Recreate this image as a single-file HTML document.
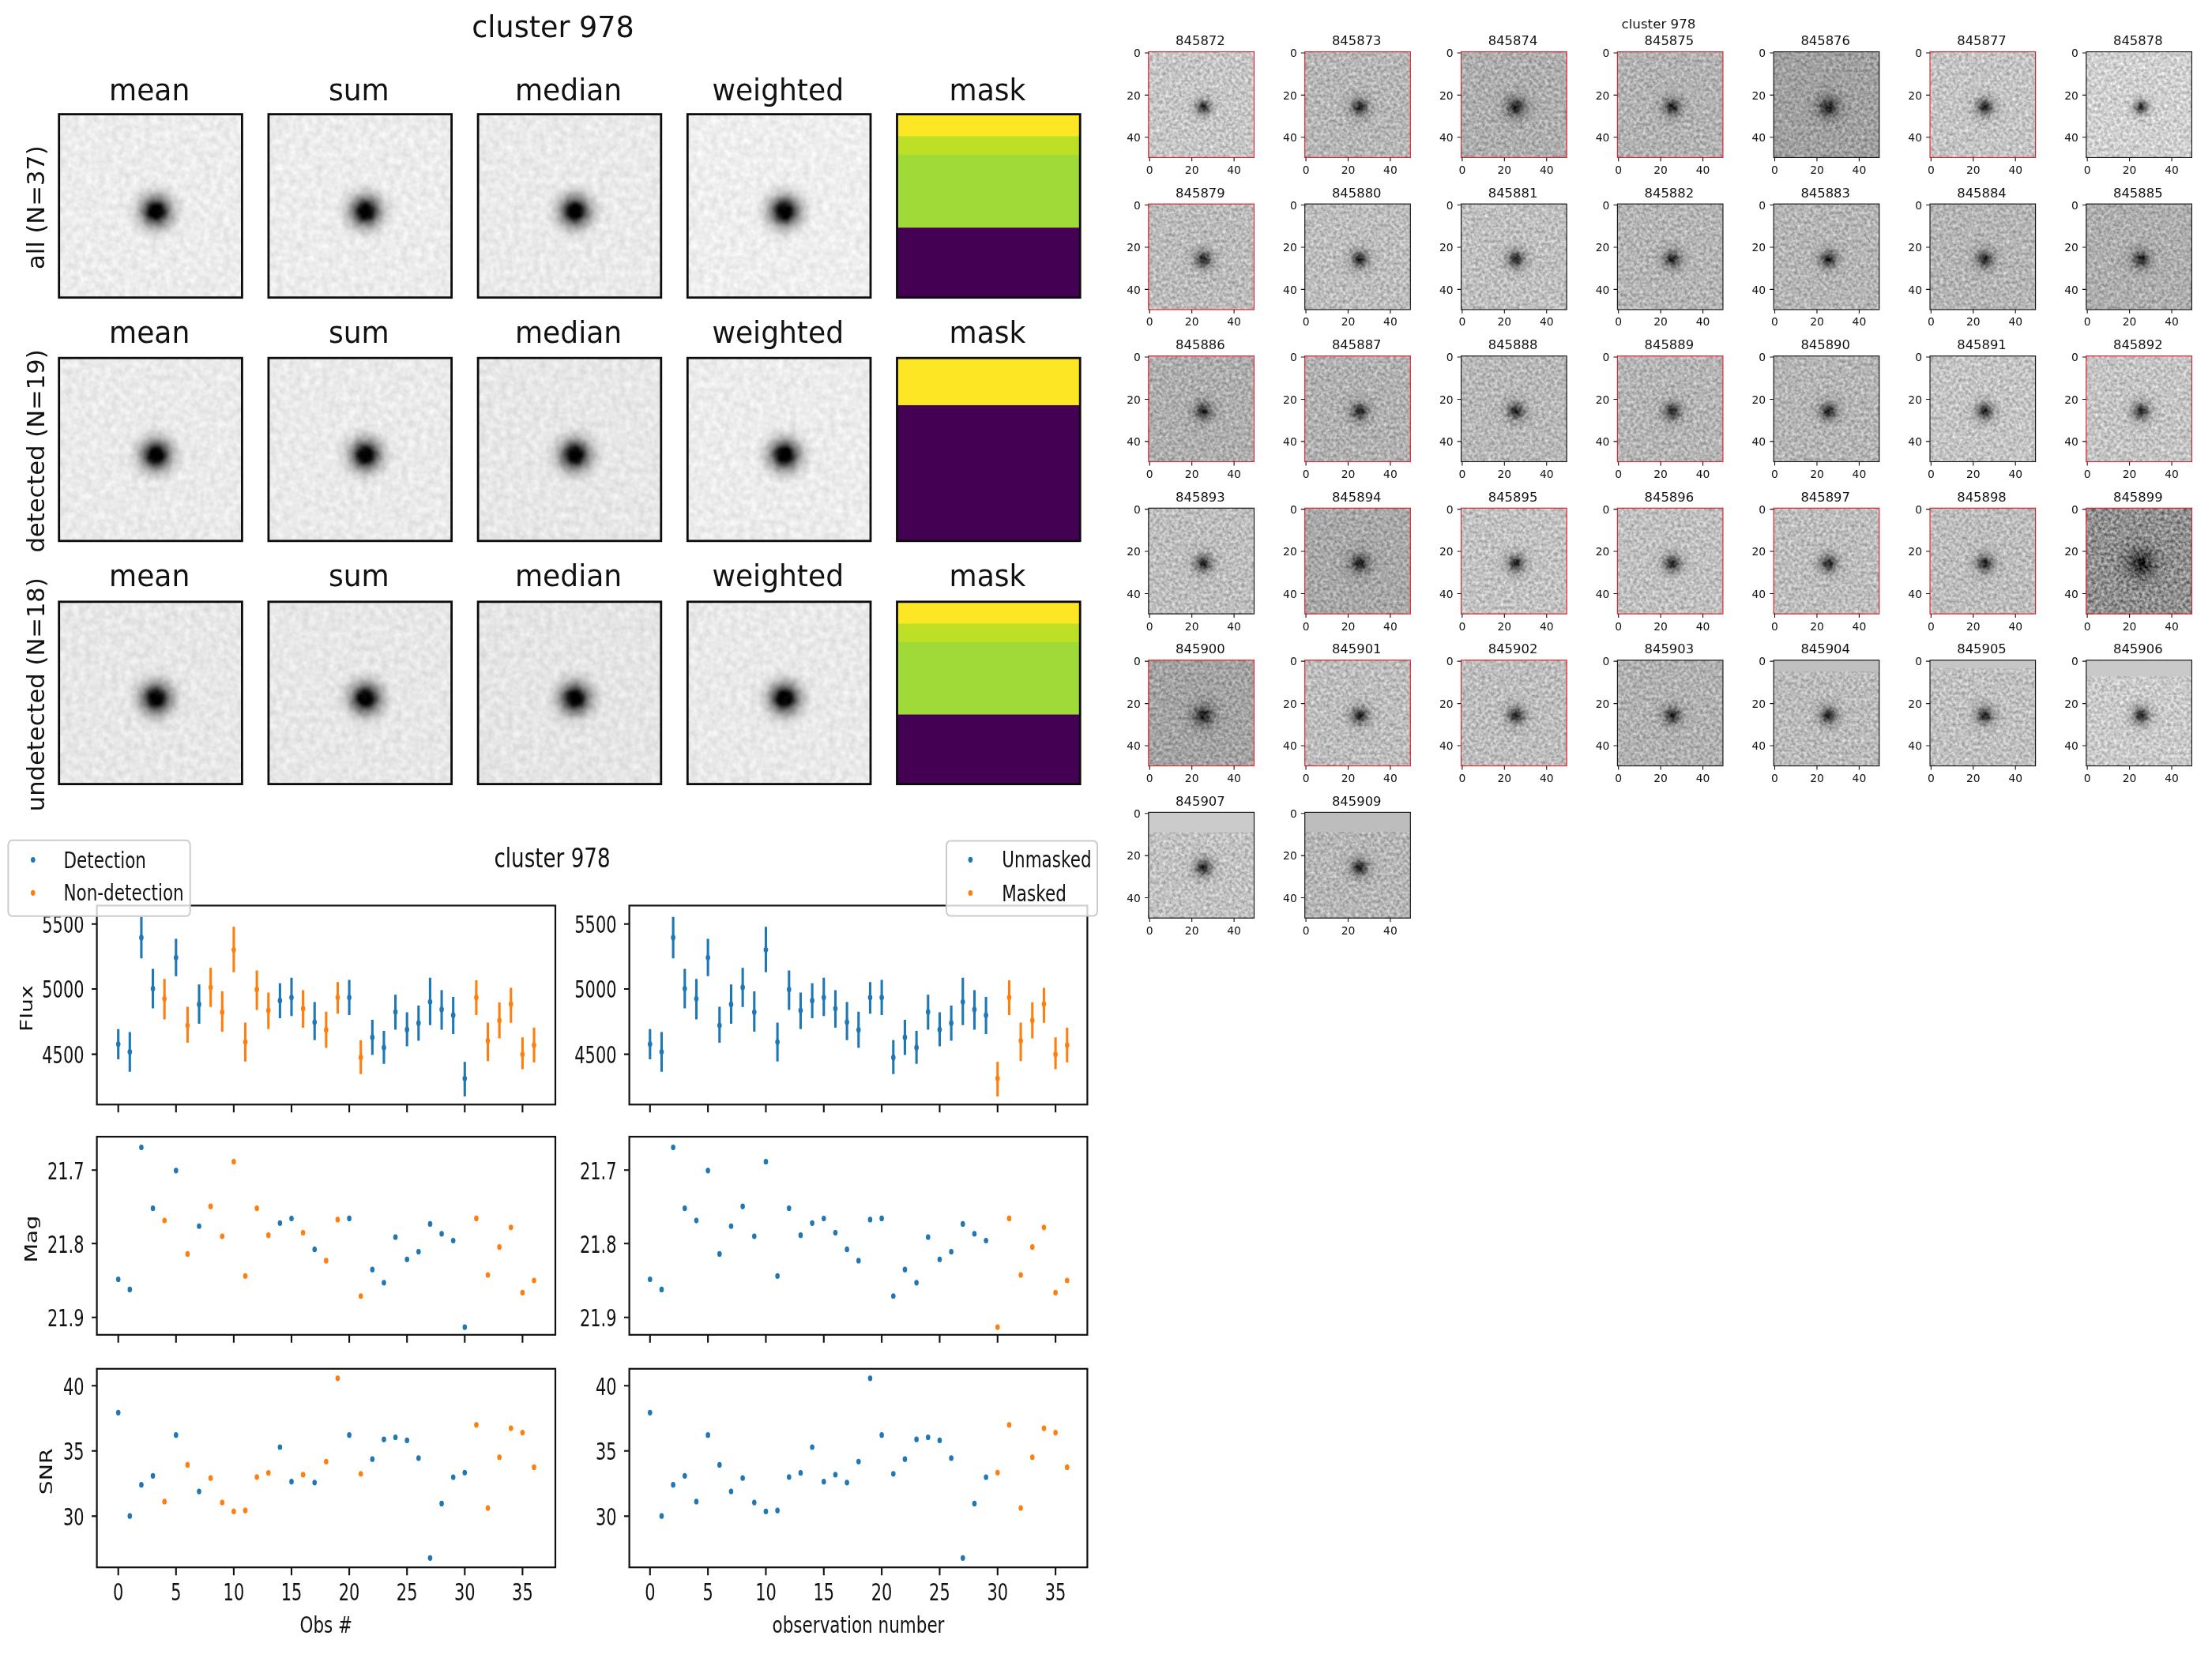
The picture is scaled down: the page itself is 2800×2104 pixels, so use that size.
<!DOCTYPE html>
<html lang="en"><head><meta charset="utf-8"><title>cluster 978</title>
<style>html,body{margin:0;padding:0;background:#fff;width:2800px;height:2104px;overflow:hidden}svg{display:block;position:absolute;left:0;top:0}text{font-family:"DejaVu Sans","Liberation Sans",sans-serif;fill:#111;font-stretch:normal}</style></head><body>
<svg width="2800" height="2104" viewBox="0 0 2800 2104" style="will-change:transform">
<defs>
<radialGradient id="gA" cx="0.5" cy="0.5" r="0.5"><stop offset="0.000" stop-color="#000" stop-opacity="1"/><stop offset="0.125" stop-color="#000" stop-opacity="1"/><stop offset="0.175" stop-color="#000" stop-opacity="0.97"/><stop offset="0.225" stop-color="#000" stop-opacity="0.9"/><stop offset="0.275" stop-color="#000" stop-opacity="0.78"/><stop offset="0.325" stop-color="#000" stop-opacity="0.65"/><stop offset="0.375" stop-color="#000" stop-opacity="0.54"/><stop offset="0.425" stop-color="#000" stop-opacity="0.44"/><stop offset="0.475" stop-color="#000" stop-opacity="0.36"/><stop offset="0.525" stop-color="#000" stop-opacity="0.29"/><stop offset="0.575" stop-color="#000" stop-opacity="0.23"/><stop offset="0.625" stop-color="#000" stop-opacity="0.17"/><stop offset="0.688" stop-color="#000" stop-opacity="0.12"/><stop offset="0.750" stop-color="#000" stop-opacity="0.08"/><stop offset="0.825" stop-color="#000" stop-opacity="0.04"/><stop offset="0.925" stop-color="#000" stop-opacity="0.01"/><stop offset="1.000" stop-color="#000" stop-opacity="0"/></radialGradient>
<radialGradient id="gB" cx="0.5" cy="0.5" r="0.5"><stop offset="0.000" stop-color="#000" stop-opacity="0.82"/><stop offset="0.067" stop-color="#000" stop-opacity="0.8"/><stop offset="0.133" stop-color="#000" stop-opacity="0.7"/><stop offset="0.200" stop-color="#000" stop-opacity="0.55"/><stop offset="0.267" stop-color="#000" stop-opacity="0.42"/><stop offset="0.333" stop-color="#000" stop-opacity="0.3"/><stop offset="0.417" stop-color="#000" stop-opacity="0.19"/><stop offset="0.500" stop-color="#000" stop-opacity="0.11"/><stop offset="0.667" stop-color="#000" stop-opacity="0.04"/><stop offset="0.833" stop-color="#000" stop-opacity="0.01"/><stop offset="1.000" stop-color="#000" stop-opacity="0"/></radialGradient>
<filter id="nA" x="0" y="0" width="1" height="1" color-interpolation-filters="sRGB"><feTurbulence type="fractalNoise" baseFrequency="0.12" numOctaves="2" seed="3" result="t"/><feColorMatrix in="t" type="matrix" values="1 0 0 0 0 1 0 0 0 0 1 0 0 0 0 0 0 0 0 1" result="g"/><feComposite in="SourceGraphic" in2="g" operator="arithmetic" k1="0" k2="1" k3="0.16" k4="-0.08"/></filter>
<filter id="nB0" x="0" y="0" width="1" height="1" color-interpolation-filters="sRGB"><feTurbulence type="fractalNoise" baseFrequency="0.25" numOctaves="2" seed="7" result="t"/><feColorMatrix in="t" type="matrix" values="1 0 0 0 0 1 0 0 0 0 1 0 0 0 0 0 0 0 0 1" result="g"/><feComposite in="SourceGraphic" in2="g" operator="arithmetic" k1="0" k2="1" k3="0.48" k4="-0.24"/></filter>
<filter id="nB1" x="0" y="0" width="1" height="1" color-interpolation-filters="sRGB"><feTurbulence type="fractalNoise" baseFrequency="0.25" numOctaves="2" seed="7" result="t"/><feColorMatrix in="t" type="matrix" values="1 0 0 0 0 1 0 0 0 0 1 0 0 0 0 0 0 0 0 1" result="g"/><feComposite in="SourceGraphic" in2="g" operator="arithmetic" k1="0" k2="1" k3="0.72" k4="-0.36"/></filter>
<filter id="nB2" x="0" y="0" width="1" height="1" color-interpolation-filters="sRGB"><feTurbulence type="fractalNoise" baseFrequency="0.25" numOctaves="2" seed="7" result="t"/><feColorMatrix in="t" type="matrix" values="1 0 0 0 0 1 0 0 0 0 1 0 0 0 0 0 0 0 0 1" result="g"/><feComposite in="SourceGraphic" in2="g" operator="arithmetic" k1="0" k2="1" k3="0.3" k4="-0.15"/></filter>
</defs>
<rect width="2800" height="2104" fill="#fff"/>
<g id="stacks">
<text x="700" y="47" font-size="36.5" text-anchor="middle">cluster 978</text>
<text transform="translate(55.5,262.65) rotate(-90)" font-size="30.6" text-anchor="middle">all (N=37)</text>
<text transform="translate(189.15,126.6) scale(0.97,1)" font-size="37.2" text-anchor="middle">mean</text>
<g filter="url(#nA)"><rect x="74.7" y="144.6" width="231.7" height="232.1" fill="rgb(236,236,236)"/>
<circle cx="197.5" cy="267.61" r="40" fill="url(#gA)"/></g>
<rect x="74.7" y="144.6" width="231.7" height="232.1" fill="none" stroke="#0c0c0c" stroke-width="2.8"/>
<text transform="translate(454.35,126.6) scale(0.97,1)" font-size="37.2" text-anchor="middle">sum</text>
<g filter="url(#nA)"><rect x="339.9" y="144.6" width="231.7" height="232.1" fill="rgb(236,236,236)"/>
<circle cx="462.7" cy="267.61" r="40" fill="url(#gA)"/></g>
<rect x="339.9" y="144.6" width="231.7" height="232.1" fill="none" stroke="#0c0c0c" stroke-width="2.8"/>
<text transform="translate(719.55,126.6) scale(0.97,1)" font-size="37.2" text-anchor="middle">median</text>
<g filter="url(#nA)"><rect x="605.1" y="144.6" width="231.7" height="232.1" fill="rgb(234,234,234)"/>
<circle cx="727.9" cy="267.61" r="40" fill="url(#gA)"/></g>
<rect x="605.1" y="144.6" width="231.7" height="232.1" fill="none" stroke="#0c0c0c" stroke-width="2.8"/>
<text transform="translate(984.75,126.6) scale(0.97,1)" font-size="37.2" text-anchor="middle">weighted</text>
<g filter="url(#nA)"><rect x="870.3" y="144.6" width="231.7" height="232.1" fill="rgb(238,238,238)"/>
<circle cx="993.1" cy="267.61" r="40" fill="url(#gA)"/></g>
<rect x="870.3" y="144.6" width="231.7" height="232.1" fill="none" stroke="#0c0c0c" stroke-width="2.8"/>
<text transform="translate(1249.95,126.6) scale(0.97,1)" font-size="37.2" text-anchor="middle">mask</text>
<rect x="1135.5" y="144.6" width="231.7" height="28.28" fill="#fde725"/>
<rect x="1135.5" y="172.38" width="231.7" height="24.01" fill="#bddf26"/>
<rect x="1135.5" y="195.89" width="231.7" height="92.76" fill="#a0da39"/>
<rect x="1135.5" y="288.15" width="231.7" height="89.05" fill="#440154"/>
<rect x="1135.5" y="144.6" width="231.7" height="232.1" fill="none" stroke="#0c0c0c" stroke-width="2.8"/>
<text transform="translate(55.5,571) rotate(-90)" font-size="30.6" text-anchor="middle">detected (N=19)</text>
<text transform="translate(189.15,434.1) scale(0.97,1)" font-size="37.2" text-anchor="middle">mean</text>
<g filter="url(#nA)"><rect x="74.7" y="453.2" width="231.7" height="231.6" fill="rgb(234,234,234)"/>
<circle cx="197.5" cy="575.95" r="40" fill="url(#gA)"/></g>
<rect x="74.7" y="453.2" width="231.7" height="231.6" fill="none" stroke="#0c0c0c" stroke-width="2.8"/>
<text transform="translate(454.35,434.1) scale(0.97,1)" font-size="37.2" text-anchor="middle">sum</text>
<g filter="url(#nA)"><rect x="339.9" y="453.2" width="231.7" height="231.6" fill="rgb(234,234,234)"/>
<circle cx="462.7" cy="575.95" r="40" fill="url(#gA)"/></g>
<rect x="339.9" y="453.2" width="231.7" height="231.6" fill="none" stroke="#0c0c0c" stroke-width="2.8"/>
<text transform="translate(719.55,434.1) scale(0.97,1)" font-size="37.2" text-anchor="middle">median</text>
<g filter="url(#nA)"><rect x="605.1" y="453.2" width="231.7" height="231.6" fill="rgb(231,231,231)"/>
<circle cx="727.9" cy="575.95" r="40" fill="url(#gA)"/></g>
<rect x="605.1" y="453.2" width="231.7" height="231.6" fill="none" stroke="#0c0c0c" stroke-width="2.8"/>
<text transform="translate(984.75,434.1) scale(0.97,1)" font-size="37.2" text-anchor="middle">weighted</text>
<g filter="url(#nA)"><rect x="870.3" y="453.2" width="231.7" height="231.6" fill="rgb(236,236,236)"/>
<circle cx="993.1" cy="575.95" r="40" fill="url(#gA)"/></g>
<rect x="870.3" y="453.2" width="231.7" height="231.6" fill="none" stroke="#0c0c0c" stroke-width="2.8"/>
<text transform="translate(1249.95,434.1) scale(0.97,1)" font-size="37.2" text-anchor="middle">mask</text>
<rect x="1135.5" y="453.2" width="231.7" height="60.25" fill="#fde725"/>
<rect x="1135.5" y="512.95" width="231.7" height="172.35" fill="#440154"/>
<rect x="1135.5" y="453.2" width="231.7" height="231.6" fill="none" stroke="#0c0c0c" stroke-width="2.8"/>
<text transform="translate(55.5,879.2) rotate(-90)" font-size="30.6" text-anchor="middle">undetected (N=18)</text>
<text transform="translate(189.15,741.6) scale(0.97,1)" font-size="37.2" text-anchor="middle">mean</text>
<g filter="url(#nA)"><rect x="74.7" y="761.8" width="231.7" height="230.8" fill="rgb(231,231,231)"/>
<circle cx="197.5" cy="884.12" r="40" fill="url(#gA)"/></g>
<rect x="74.7" y="761.8" width="231.7" height="230.8" fill="none" stroke="#0c0c0c" stroke-width="2.8"/>
<text transform="translate(454.35,741.6) scale(0.97,1)" font-size="37.2" text-anchor="middle">sum</text>
<g filter="url(#nA)"><rect x="339.9" y="761.8" width="231.7" height="230.8" fill="rgb(231,231,231)"/>
<circle cx="462.7" cy="884.12" r="40" fill="url(#gA)"/></g>
<rect x="339.9" y="761.8" width="231.7" height="230.8" fill="none" stroke="#0c0c0c" stroke-width="2.8"/>
<text transform="translate(719.55,741.6) scale(0.97,1)" font-size="37.2" text-anchor="middle">median</text>
<g filter="url(#nA)"><rect x="605.1" y="761.8" width="231.7" height="230.8" fill="rgb(229,229,229)"/>
<circle cx="727.9" cy="884.12" r="40" fill="url(#gA)"/></g>
<rect x="605.1" y="761.8" width="231.7" height="230.8" fill="none" stroke="#0c0c0c" stroke-width="2.8"/>
<text transform="translate(984.75,741.6) scale(0.97,1)" font-size="37.2" text-anchor="middle">weighted</text>
<g filter="url(#nA)"><rect x="870.3" y="761.8" width="231.7" height="230.8" fill="rgb(233,233,233)"/>
<circle cx="993.1" cy="884.12" r="40" fill="url(#gA)"/></g>
<rect x="870.3" y="761.8" width="231.7" height="230.8" fill="none" stroke="#0c0c0c" stroke-width="2.8"/>
<text transform="translate(1249.95,741.6) scale(0.97,1)" font-size="37.2" text-anchor="middle">mask</text>
<rect x="1135.5" y="761.8" width="231.7" height="28.13" fill="#fde725"/>
<rect x="1135.5" y="789.43" width="231.7" height="23.88" fill="#bddf26"/>
<rect x="1135.5" y="812.81" width="231.7" height="92.24" fill="#a0da39"/>
<rect x="1135.5" y="904.55" width="231.7" height="88.55" fill="#440154"/>
<rect x="1135.5" y="761.8" width="231.7" height="230.8" fill="none" stroke="#0c0c0c" stroke-width="2.8"/>
</g>
<g id="thumbs">
<text x="2099.5" y="36" font-size="16.7" text-anchor="middle">cluster 978</text>
<text x="1519.4" y="57.2" font-size="16.4" text-anchor="middle">845872</text>
<g filter="url(#nB0)"><rect x="1453.9" y="65.6" width="133.6" height="133.8" fill="rgb(198,198,198)"/>
<circle cx="1523.37" cy="135.61" r="25.5" fill="url(#gB)"/></g>
<rect x="1453.9" y="65.6" width="133.6" height="133.8" fill="none" stroke="#e51e2c" stroke-width="1.1"/>
<text x="1455.24" y="219.9" font-size="13.89" text-anchor="middle">0</text>
<text x="1443.9" y="72.14" font-size="13.89" text-anchor="end">0</text>
<text x="1508.68" y="219.9" font-size="13.89" text-anchor="middle">20</text>
<text x="1443.9" y="125.58" font-size="13.89" text-anchor="end">20</text>
<text x="1562.12" y="219.9" font-size="13.89" text-anchor="middle">40</text>
<text x="1443.9" y="179.02" font-size="13.89" text-anchor="end">40</text>
<path d="M1455.24 199.4v4.9M1453.9 66.94h-4.9M1508.68 199.4v4.9M1453.9 120.38h-4.9M1562.12 199.4v4.9M1453.9 173.82h-4.9" stroke="#111" stroke-width="1.1" fill="none"/>
<text x="1717.22" y="57.2" font-size="16.4" text-anchor="middle">845873</text>
<g filter="url(#nB0)"><rect x="1651.72" y="65.6" width="133.6" height="133.8" fill="rgb(182,182,182)"/>
<circle cx="1721.19" cy="135.61" r="30" fill="url(#gB)"/></g>
<rect x="1651.72" y="65.6" width="133.6" height="133.8" fill="none" stroke="#e51e2c" stroke-width="1.1"/>
<text x="1653.06" y="219.9" font-size="13.89" text-anchor="middle">0</text>
<text x="1641.72" y="72.14" font-size="13.89" text-anchor="end">0</text>
<text x="1706.5" y="219.9" font-size="13.89" text-anchor="middle">20</text>
<text x="1641.72" y="125.58" font-size="13.89" text-anchor="end">20</text>
<text x="1759.94" y="219.9" font-size="13.89" text-anchor="middle">40</text>
<text x="1641.72" y="179.02" font-size="13.89" text-anchor="end">40</text>
<path d="M1653.06 199.4v4.9M1651.72 66.94h-4.9M1706.5 199.4v4.9M1651.72 120.38h-4.9M1759.94 199.4v4.9M1651.72 173.82h-4.9" stroke="#111" stroke-width="1.1" fill="none"/>
<text x="1915.04" y="57.2" font-size="16.4" text-anchor="middle">845874</text>
<g filter="url(#nB0)"><rect x="1849.54" y="65.6" width="133.6" height="133.8" fill="rgb(174,174,174)"/>
<circle cx="1919.01" cy="135.61" r="34.5" fill="url(#gB)"/></g>
<rect x="1849.54" y="65.6" width="133.6" height="133.8" fill="none" stroke="#e51e2c" stroke-width="1.1"/>
<text x="1850.88" y="219.9" font-size="13.89" text-anchor="middle">0</text>
<text x="1839.54" y="72.14" font-size="13.89" text-anchor="end">0</text>
<text x="1904.32" y="219.9" font-size="13.89" text-anchor="middle">20</text>
<text x="1839.54" y="125.58" font-size="13.89" text-anchor="end">20</text>
<text x="1957.76" y="219.9" font-size="13.89" text-anchor="middle">40</text>
<text x="1839.54" y="179.02" font-size="13.89" text-anchor="end">40</text>
<path d="M1850.88 199.4v4.9M1849.54 66.94h-4.9M1904.32 199.4v4.9M1849.54 120.38h-4.9M1957.76 199.4v4.9M1849.54 173.82h-4.9" stroke="#111" stroke-width="1.1" fill="none"/>
<text x="2112.86" y="57.2" font-size="16.4" text-anchor="middle">845875</text>
<g filter="url(#nB0)"><rect x="2047.36" y="65.6" width="133.6" height="133.8" fill="rgb(178,178,178)"/>
<circle cx="2116.83" cy="135.61" r="30" fill="url(#gB)"/></g>
<rect x="2047.36" y="65.6" width="133.6" height="133.8" fill="none" stroke="#e51e2c" stroke-width="1.1"/>
<text x="2048.7" y="219.9" font-size="13.89" text-anchor="middle">0</text>
<text x="2037.36" y="72.14" font-size="13.89" text-anchor="end">0</text>
<text x="2102.14" y="219.9" font-size="13.89" text-anchor="middle">20</text>
<text x="2037.36" y="125.58" font-size="13.89" text-anchor="end">20</text>
<text x="2155.58" y="219.9" font-size="13.89" text-anchor="middle">40</text>
<text x="2037.36" y="179.02" font-size="13.89" text-anchor="end">40</text>
<path d="M2048.7 199.4v4.9M2047.36 66.94h-4.9M2102.14 199.4v4.9M2047.36 120.38h-4.9M2155.58 199.4v4.9M2047.36 173.82h-4.9" stroke="#111" stroke-width="1.1" fill="none"/>
<text x="2310.68" y="57.2" font-size="16.4" text-anchor="middle">845876</text>
<g filter="url(#nB0)"><rect x="2245.18" y="65.6" width="133.6" height="133.8" fill="rgb(160,160,160)"/>
<circle cx="2314.65" cy="135.61" r="36" fill="url(#gB)"/></g>
<rect x="2245.18" y="65.6" width="133.6" height="133.8" fill="none" stroke="#111" stroke-width="1.1"/>
<text x="2246.52" y="219.9" font-size="13.89" text-anchor="middle">0</text>
<text x="2235.18" y="72.14" font-size="13.89" text-anchor="end">0</text>
<text x="2299.96" y="219.9" font-size="13.89" text-anchor="middle">20</text>
<text x="2235.18" y="125.58" font-size="13.89" text-anchor="end">20</text>
<text x="2353.4" y="219.9" font-size="13.89" text-anchor="middle">40</text>
<text x="2235.18" y="179.02" font-size="13.89" text-anchor="end">40</text>
<path d="M2246.52 199.4v4.9M2245.18 66.94h-4.9M2299.96 199.4v4.9M2245.18 120.38h-4.9M2353.4 199.4v4.9M2245.18 173.82h-4.9" stroke="#111" stroke-width="1.1" fill="none"/>
<text x="2508.5" y="57.2" font-size="16.4" text-anchor="middle">845877</text>
<g filter="url(#nB0)"><rect x="2443" y="65.6" width="133.6" height="133.8" fill="rgb(196,196,196)"/>
<circle cx="2512.47" cy="135.61" r="30" fill="url(#gB)"/></g>
<rect x="2443" y="65.6" width="133.6" height="133.8" fill="none" stroke="#e51e2c" stroke-width="1.1"/>
<text x="2444.34" y="219.9" font-size="13.89" text-anchor="middle">0</text>
<text x="2433" y="72.14" font-size="13.89" text-anchor="end">0</text>
<text x="2497.78" y="219.9" font-size="13.89" text-anchor="middle">20</text>
<text x="2433" y="125.58" font-size="13.89" text-anchor="end">20</text>
<text x="2551.22" y="219.9" font-size="13.89" text-anchor="middle">40</text>
<text x="2433" y="179.02" font-size="13.89" text-anchor="end">40</text>
<path d="M2444.34 199.4v4.9M2443 66.94h-4.9M2497.78 199.4v4.9M2443 120.38h-4.9M2551.22 199.4v4.9M2443 173.82h-4.9" stroke="#111" stroke-width="1.1" fill="none"/>
<text x="2706.32" y="57.2" font-size="16.4" text-anchor="middle">845878</text>
<g filter="url(#nB0)"><rect x="2640.82" y="65.6" width="133.6" height="133.8" fill="rgb(208,208,208)"/>
<circle cx="2710.29" cy="135.61" r="24" fill="url(#gB)"/></g>
<rect x="2640.82" y="65.6" width="133.6" height="133.8" fill="none" stroke="#111" stroke-width="1.1"/>
<text x="2642.16" y="219.9" font-size="13.89" text-anchor="middle">0</text>
<text x="2630.82" y="72.14" font-size="13.89" text-anchor="end">0</text>
<text x="2695.6" y="219.9" font-size="13.89" text-anchor="middle">20</text>
<text x="2630.82" y="125.58" font-size="13.89" text-anchor="end">20</text>
<text x="2749.04" y="219.9" font-size="13.89" text-anchor="middle">40</text>
<text x="2630.82" y="179.02" font-size="13.89" text-anchor="end">40</text>
<path d="M2642.16 199.4v4.9M2640.82 66.94h-4.9M2695.6 199.4v4.9M2640.82 120.38h-4.9M2749.04 199.4v4.9M2640.82 173.82h-4.9" stroke="#111" stroke-width="1.1" fill="none"/>
<text x="1519.4" y="249.75" font-size="16.4" text-anchor="middle">845879</text>
<g filter="url(#nB0)"><rect x="1453.9" y="258.15" width="133.6" height="133.8" fill="rgb(187,187,187)"/>
<circle cx="1523.37" cy="328.16" r="30" fill="url(#gB)"/></g>
<rect x="1453.9" y="258.15" width="133.6" height="133.8" fill="none" stroke="#e51e2c" stroke-width="1.1"/>
<text x="1455.24" y="412.45" font-size="13.89" text-anchor="middle">0</text>
<text x="1443.9" y="264.69" font-size="13.89" text-anchor="end">0</text>
<text x="1508.68" y="412.45" font-size="13.89" text-anchor="middle">20</text>
<text x="1443.9" y="318.13" font-size="13.89" text-anchor="end">20</text>
<text x="1562.12" y="412.45" font-size="13.89" text-anchor="middle">40</text>
<text x="1443.9" y="371.57" font-size="13.89" text-anchor="end">40</text>
<path d="M1455.24 391.95v4.9M1453.9 259.49h-4.9M1508.68 391.95v4.9M1453.9 312.93h-4.9M1562.12 391.95v4.9M1453.9 366.37h-4.9" stroke="#111" stroke-width="1.1" fill="none"/>
<text x="1717.22" y="249.75" font-size="16.4" text-anchor="middle">845880</text>
<g filter="url(#nB0)"><rect x="1651.72" y="258.15" width="133.6" height="133.8" fill="rgb(189,189,189)"/>
<circle cx="1721.19" cy="328.16" r="30" fill="url(#gB)"/></g>
<rect x="1651.72" y="258.15" width="133.6" height="133.8" fill="none" stroke="#111" stroke-width="1.1"/>
<text x="1653.06" y="412.45" font-size="13.89" text-anchor="middle">0</text>
<text x="1641.72" y="264.69" font-size="13.89" text-anchor="end">0</text>
<text x="1706.5" y="412.45" font-size="13.89" text-anchor="middle">20</text>
<text x="1641.72" y="318.13" font-size="13.89" text-anchor="end">20</text>
<text x="1759.94" y="412.45" font-size="13.89" text-anchor="middle">40</text>
<text x="1641.72" y="371.57" font-size="13.89" text-anchor="end">40</text>
<path d="M1653.06 391.95v4.9M1651.72 259.49h-4.9M1706.5 391.95v4.9M1651.72 312.93h-4.9M1759.94 391.95v4.9M1651.72 366.37h-4.9" stroke="#111" stroke-width="1.1" fill="none"/>
<text x="1915.04" y="249.75" font-size="16.4" text-anchor="middle">845881</text>
<g filter="url(#nB0)"><rect x="1849.54" y="258.15" width="133.6" height="133.8" fill="rgb(191,191,191)"/>
<circle cx="1919.01" cy="328.16" r="30" fill="url(#gB)"/></g>
<rect x="1849.54" y="258.15" width="133.6" height="133.8" fill="none" stroke="#111" stroke-width="1.1"/>
<text x="1850.88" y="412.45" font-size="13.89" text-anchor="middle">0</text>
<text x="1839.54" y="264.69" font-size="13.89" text-anchor="end">0</text>
<text x="1904.32" y="412.45" font-size="13.89" text-anchor="middle">20</text>
<text x="1839.54" y="318.13" font-size="13.89" text-anchor="end">20</text>
<text x="1957.76" y="412.45" font-size="13.89" text-anchor="middle">40</text>
<text x="1839.54" y="371.57" font-size="13.89" text-anchor="end">40</text>
<path d="M1850.88 391.95v4.9M1849.54 259.49h-4.9M1904.32 391.95v4.9M1849.54 312.93h-4.9M1957.76 391.95v4.9M1849.54 366.37h-4.9" stroke="#111" stroke-width="1.1" fill="none"/>
<text x="2112.86" y="249.75" font-size="16.4" text-anchor="middle">845882</text>
<g filter="url(#nB0)"><rect x="2047.36" y="258.15" width="133.6" height="133.8" fill="rgb(181,181,181)"/>
<circle cx="2116.83" cy="328.16" r="30" fill="url(#gB)"/></g>
<rect x="2047.36" y="258.15" width="133.6" height="133.8" fill="none" stroke="#111" stroke-width="1.1"/>
<text x="2048.7" y="412.45" font-size="13.89" text-anchor="middle">0</text>
<text x="2037.36" y="264.69" font-size="13.89" text-anchor="end">0</text>
<text x="2102.14" y="412.45" font-size="13.89" text-anchor="middle">20</text>
<text x="2037.36" y="318.13" font-size="13.89" text-anchor="end">20</text>
<text x="2155.58" y="412.45" font-size="13.89" text-anchor="middle">40</text>
<text x="2037.36" y="371.57" font-size="13.89" text-anchor="end">40</text>
<path d="M2048.7 391.95v4.9M2047.36 259.49h-4.9M2102.14 391.95v4.9M2047.36 312.93h-4.9M2155.58 391.95v4.9M2047.36 366.37h-4.9" stroke="#111" stroke-width="1.1" fill="none"/>
<text x="2310.68" y="249.75" font-size="16.4" text-anchor="middle">845883</text>
<g filter="url(#nB0)"><rect x="2245.18" y="258.15" width="133.6" height="133.8" fill="rgb(181,181,181)"/>
<circle cx="2314.65" cy="328.16" r="30" fill="url(#gB)"/></g>
<rect x="2245.18" y="258.15" width="133.6" height="133.8" fill="none" stroke="#111" stroke-width="1.1"/>
<text x="2246.52" y="412.45" font-size="13.89" text-anchor="middle">0</text>
<text x="2235.18" y="264.69" font-size="13.89" text-anchor="end">0</text>
<text x="2299.96" y="412.45" font-size="13.89" text-anchor="middle">20</text>
<text x="2235.18" y="318.13" font-size="13.89" text-anchor="end">20</text>
<text x="2353.4" y="412.45" font-size="13.89" text-anchor="middle">40</text>
<text x="2235.18" y="371.57" font-size="13.89" text-anchor="end">40</text>
<path d="M2246.52 391.95v4.9M2245.18 259.49h-4.9M2299.96 391.95v4.9M2245.18 312.93h-4.9M2353.4 391.95v4.9M2245.18 366.37h-4.9" stroke="#111" stroke-width="1.1" fill="none"/>
<text x="2508.5" y="249.75" font-size="16.4" text-anchor="middle">845884</text>
<g filter="url(#nB0)"><rect x="2443" y="258.15" width="133.6" height="133.8" fill="rgb(181,181,181)"/>
<circle cx="2512.47" cy="328.16" r="30" fill="url(#gB)"/></g>
<rect x="2443" y="258.15" width="133.6" height="133.8" fill="none" stroke="#111" stroke-width="1.1"/>
<text x="2444.34" y="412.45" font-size="13.89" text-anchor="middle">0</text>
<text x="2433" y="264.69" font-size="13.89" text-anchor="end">0</text>
<text x="2497.78" y="412.45" font-size="13.89" text-anchor="middle">20</text>
<text x="2433" y="318.13" font-size="13.89" text-anchor="end">20</text>
<text x="2551.22" y="412.45" font-size="13.89" text-anchor="middle">40</text>
<text x="2433" y="371.57" font-size="13.89" text-anchor="end">40</text>
<path d="M2444.34 391.95v4.9M2443 259.49h-4.9M2497.78 391.95v4.9M2443 312.93h-4.9M2551.22 391.95v4.9M2443 366.37h-4.9" stroke="#111" stroke-width="1.1" fill="none"/>
<text x="2706.32" y="249.75" font-size="16.4" text-anchor="middle">845885</text>
<g filter="url(#nB0)"><rect x="2640.82" y="258.15" width="133.6" height="133.8" fill="rgb(174,174,174)"/>
<circle cx="2710.29" cy="328.16" r="30" fill="url(#gB)"/></g>
<rect x="2640.82" y="258.15" width="133.6" height="133.8" fill="none" stroke="#111" stroke-width="1.1"/>
<text x="2642.16" y="412.45" font-size="13.89" text-anchor="middle">0</text>
<text x="2630.82" y="264.69" font-size="13.89" text-anchor="end">0</text>
<text x="2695.6" y="412.45" font-size="13.89" text-anchor="middle">20</text>
<text x="2630.82" y="318.13" font-size="13.89" text-anchor="end">20</text>
<text x="2749.04" y="412.45" font-size="13.89" text-anchor="middle">40</text>
<text x="2630.82" y="371.57" font-size="13.89" text-anchor="end">40</text>
<path d="M2642.16 391.95v4.9M2640.82 259.49h-4.9M2695.6 391.95v4.9M2640.82 312.93h-4.9M2749.04 391.95v4.9M2640.82 366.37h-4.9" stroke="#111" stroke-width="1.1" fill="none"/>
<text x="1519.4" y="442.3" font-size="16.4" text-anchor="middle">845886</text>
<g filter="url(#nB0)"><rect x="1453.9" y="450.7" width="133.6" height="133.8" fill="rgb(174,174,174)"/>
<circle cx="1523.37" cy="520.71" r="30" fill="url(#gB)"/></g>
<rect x="1453.9" y="450.7" width="133.6" height="133.8" fill="none" stroke="#e51e2c" stroke-width="1.1"/>
<text x="1455.24" y="605" font-size="13.89" text-anchor="middle">0</text>
<text x="1443.9" y="457.24" font-size="13.89" text-anchor="end">0</text>
<text x="1508.68" y="605" font-size="13.89" text-anchor="middle">20</text>
<text x="1443.9" y="510.68" font-size="13.89" text-anchor="end">20</text>
<text x="1562.12" y="605" font-size="13.89" text-anchor="middle">40</text>
<text x="1443.9" y="564.12" font-size="13.89" text-anchor="end">40</text>
<path d="M1455.24 584.5v4.9M1453.9 452.04h-4.9M1508.68 584.5v4.9M1453.9 505.48h-4.9M1562.12 584.5v4.9M1453.9 558.92h-4.9" stroke="#111" stroke-width="1.1" fill="none"/>
<text x="1717.22" y="442.3" font-size="16.4" text-anchor="middle">845887</text>
<g filter="url(#nB0)"><rect x="1651.72" y="450.7" width="133.6" height="133.8" fill="rgb(177,177,177)"/>
<circle cx="1721.19" cy="520.71" r="30" fill="url(#gB)"/></g>
<rect x="1651.72" y="450.7" width="133.6" height="133.8" fill="none" stroke="#e51e2c" stroke-width="1.1"/>
<text x="1653.06" y="605" font-size="13.89" text-anchor="middle">0</text>
<text x="1641.72" y="457.24" font-size="13.89" text-anchor="end">0</text>
<text x="1706.5" y="605" font-size="13.89" text-anchor="middle">20</text>
<text x="1641.72" y="510.68" font-size="13.89" text-anchor="end">20</text>
<text x="1759.94" y="605" font-size="13.89" text-anchor="middle">40</text>
<text x="1641.72" y="564.12" font-size="13.89" text-anchor="end">40</text>
<path d="M1653.06 584.5v4.9M1651.72 452.04h-4.9M1706.5 584.5v4.9M1651.72 505.48h-4.9M1759.94 584.5v4.9M1651.72 558.92h-4.9" stroke="#111" stroke-width="1.1" fill="none"/>
<text x="1915.04" y="442.3" font-size="16.4" text-anchor="middle">845888</text>
<g filter="url(#nB0)"><rect x="1849.54" y="450.7" width="133.6" height="133.8" fill="rgb(184,184,184)"/>
<circle cx="1919.01" cy="520.71" r="30" fill="url(#gB)"/></g>
<rect x="1849.54" y="450.7" width="133.6" height="133.8" fill="none" stroke="#111" stroke-width="1.1"/>
<text x="1850.88" y="605" font-size="13.89" text-anchor="middle">0</text>
<text x="1839.54" y="457.24" font-size="13.89" text-anchor="end">0</text>
<text x="1904.32" y="605" font-size="13.89" text-anchor="middle">20</text>
<text x="1839.54" y="510.68" font-size="13.89" text-anchor="end">20</text>
<text x="1957.76" y="605" font-size="13.89" text-anchor="middle">40</text>
<text x="1839.54" y="564.12" font-size="13.89" text-anchor="end">40</text>
<path d="M1850.88 584.5v4.9M1849.54 452.04h-4.9M1904.32 584.5v4.9M1849.54 505.48h-4.9M1957.76 584.5v4.9M1849.54 558.92h-4.9" stroke="#111" stroke-width="1.1" fill="none"/>
<text x="2112.86" y="442.3" font-size="16.4" text-anchor="middle">845889</text>
<g filter="url(#nB0)"><rect x="2047.36" y="450.7" width="133.6" height="133.8" fill="rgb(181,181,181)"/>
<circle cx="2116.83" cy="520.71" r="30" fill="url(#gB)"/></g>
<rect x="2047.36" y="450.7" width="133.6" height="133.8" fill="none" stroke="#e51e2c" stroke-width="1.1"/>
<text x="2048.7" y="605" font-size="13.89" text-anchor="middle">0</text>
<text x="2037.36" y="457.24" font-size="13.89" text-anchor="end">0</text>
<text x="2102.14" y="605" font-size="13.89" text-anchor="middle">20</text>
<text x="2037.36" y="510.68" font-size="13.89" text-anchor="end">20</text>
<text x="2155.58" y="605" font-size="13.89" text-anchor="middle">40</text>
<text x="2037.36" y="564.12" font-size="13.89" text-anchor="end">40</text>
<path d="M2048.7 584.5v4.9M2047.36 452.04h-4.9M2102.14 584.5v4.9M2047.36 505.48h-4.9M2155.58 584.5v4.9M2047.36 558.92h-4.9" stroke="#111" stroke-width="1.1" fill="none"/>
<text x="2310.68" y="442.3" font-size="16.4" text-anchor="middle">845890</text>
<g filter="url(#nB0)"><rect x="2245.18" y="450.7" width="133.6" height="133.8" fill="rgb(181,181,181)"/>
<circle cx="2314.65" cy="520.71" r="30" fill="url(#gB)"/></g>
<rect x="2245.18" y="450.7" width="133.6" height="133.8" fill="none" stroke="#111" stroke-width="1.1"/>
<text x="2246.52" y="605" font-size="13.89" text-anchor="middle">0</text>
<text x="2235.18" y="457.24" font-size="13.89" text-anchor="end">0</text>
<text x="2299.96" y="605" font-size="13.89" text-anchor="middle">20</text>
<text x="2235.18" y="510.68" font-size="13.89" text-anchor="end">20</text>
<text x="2353.4" y="605" font-size="13.89" text-anchor="middle">40</text>
<text x="2235.18" y="564.12" font-size="13.89" text-anchor="end">40</text>
<path d="M2246.52 584.5v4.9M2245.18 452.04h-4.9M2299.96 584.5v4.9M2245.18 505.48h-4.9M2353.4 584.5v4.9M2245.18 558.92h-4.9" stroke="#111" stroke-width="1.1" fill="none"/>
<text x="2508.5" y="442.3" font-size="16.4" text-anchor="middle">845891</text>
<g filter="url(#nB0)"><rect x="2443" y="450.7" width="133.6" height="133.8" fill="rgb(196,196,196)"/>
<circle cx="2512.47" cy="520.71" r="30" fill="url(#gB)"/></g>
<rect x="2443" y="450.7" width="133.6" height="133.8" fill="none" stroke="#111" stroke-width="1.1"/>
<text x="2444.34" y="605" font-size="13.89" text-anchor="middle">0</text>
<text x="2433" y="457.24" font-size="13.89" text-anchor="end">0</text>
<text x="2497.78" y="605" font-size="13.89" text-anchor="middle">20</text>
<text x="2433" y="510.68" font-size="13.89" text-anchor="end">20</text>
<text x="2551.22" y="605" font-size="13.89" text-anchor="middle">40</text>
<text x="2433" y="564.12" font-size="13.89" text-anchor="end">40</text>
<path d="M2444.34 584.5v4.9M2443 452.04h-4.9M2497.78 584.5v4.9M2443 505.48h-4.9M2551.22 584.5v4.9M2443 558.92h-4.9" stroke="#111" stroke-width="1.1" fill="none"/>
<text x="2706.32" y="442.3" font-size="16.4" text-anchor="middle">845892</text>
<g filter="url(#nB0)"><rect x="2640.82" y="450.7" width="133.6" height="133.8" fill="rgb(196,196,196)"/>
<circle cx="2710.29" cy="520.71" r="30" fill="url(#gB)"/></g>
<rect x="2640.82" y="450.7" width="133.6" height="133.8" fill="none" stroke="#e51e2c" stroke-width="1.1"/>
<text x="2642.16" y="605" font-size="13.89" text-anchor="middle">0</text>
<text x="2630.82" y="457.24" font-size="13.89" text-anchor="end">0</text>
<text x="2695.6" y="605" font-size="13.89" text-anchor="middle">20</text>
<text x="2630.82" y="510.68" font-size="13.89" text-anchor="end">20</text>
<text x="2749.04" y="605" font-size="13.89" text-anchor="middle">40</text>
<text x="2630.82" y="564.12" font-size="13.89" text-anchor="end">40</text>
<path d="M2642.16 584.5v4.9M2640.82 452.04h-4.9M2695.6 584.5v4.9M2640.82 505.48h-4.9M2749.04 584.5v4.9M2640.82 558.92h-4.9" stroke="#111" stroke-width="1.1" fill="none"/>
<text x="1519.4" y="634.85" font-size="16.4" text-anchor="middle">845893</text>
<g filter="url(#nB0)"><rect x="1453.9" y="643.25" width="133.6" height="133.8" fill="rgb(190,190,190)"/>
<circle cx="1523.37" cy="713.26" r="30" fill="url(#gB)"/></g>
<rect x="1453.9" y="643.25" width="133.6" height="133.8" fill="none" stroke="#111" stroke-width="1.1"/>
<text x="1455.24" y="797.55" font-size="13.89" text-anchor="middle">0</text>
<text x="1443.9" y="649.79" font-size="13.89" text-anchor="end">0</text>
<text x="1508.68" y="797.55" font-size="13.89" text-anchor="middle">20</text>
<text x="1443.9" y="703.23" font-size="13.89" text-anchor="end">20</text>
<text x="1562.12" y="797.55" font-size="13.89" text-anchor="middle">40</text>
<text x="1443.9" y="756.67" font-size="13.89" text-anchor="end">40</text>
<path d="M1455.24 777.05v4.9M1453.9 644.59h-4.9M1508.68 777.05v4.9M1453.9 698.03h-4.9M1562.12 777.05v4.9M1453.9 751.47h-4.9" stroke="#111" stroke-width="1.1" fill="none"/>
<text x="1717.22" y="634.85" font-size="16.4" text-anchor="middle">845894</text>
<g filter="url(#nB0)"><rect x="1651.72" y="643.25" width="133.6" height="133.8" fill="rgb(168,168,168)"/>
<circle cx="1721.19" cy="713.26" r="33" fill="url(#gB)"/></g>
<rect x="1651.72" y="643.25" width="133.6" height="133.8" fill="none" stroke="#e51e2c" stroke-width="1.1"/>
<text x="1653.06" y="797.55" font-size="13.89" text-anchor="middle">0</text>
<text x="1641.72" y="649.79" font-size="13.89" text-anchor="end">0</text>
<text x="1706.5" y="797.55" font-size="13.89" text-anchor="middle">20</text>
<text x="1641.72" y="703.23" font-size="13.89" text-anchor="end">20</text>
<text x="1759.94" y="797.55" font-size="13.89" text-anchor="middle">40</text>
<text x="1641.72" y="756.67" font-size="13.89" text-anchor="end">40</text>
<path d="M1653.06 777.05v4.9M1651.72 644.59h-4.9M1706.5 777.05v4.9M1651.72 698.03h-4.9M1759.94 777.05v4.9M1651.72 751.47h-4.9" stroke="#111" stroke-width="1.1" fill="none"/>
<text x="1915.04" y="634.85" font-size="16.4" text-anchor="middle">845895</text>
<g filter="url(#nB0)"><rect x="1849.54" y="643.25" width="133.6" height="133.8" fill="rgb(194,194,194)"/>
<circle cx="1919.01" cy="713.26" r="30" fill="url(#gB)"/></g>
<rect x="1849.54" y="643.25" width="133.6" height="133.8" fill="none" stroke="#e51e2c" stroke-width="1.1"/>
<text x="1850.88" y="797.55" font-size="13.89" text-anchor="middle">0</text>
<text x="1839.54" y="649.79" font-size="13.89" text-anchor="end">0</text>
<text x="1904.32" y="797.55" font-size="13.89" text-anchor="middle">20</text>
<text x="1839.54" y="703.23" font-size="13.89" text-anchor="end">20</text>
<text x="1957.76" y="797.55" font-size="13.89" text-anchor="middle">40</text>
<text x="1839.54" y="756.67" font-size="13.89" text-anchor="end">40</text>
<path d="M1850.88 777.05v4.9M1849.54 644.59h-4.9M1904.32 777.05v4.9M1849.54 698.03h-4.9M1957.76 777.05v4.9M1849.54 751.47h-4.9" stroke="#111" stroke-width="1.1" fill="none"/>
<text x="2112.86" y="634.85" font-size="16.4" text-anchor="middle">845896</text>
<g filter="url(#nB0)"><rect x="2047.36" y="643.25" width="133.6" height="133.8" fill="rgb(192,192,192)"/>
<circle cx="2116.83" cy="713.26" r="30" fill="url(#gB)"/></g>
<rect x="2047.36" y="643.25" width="133.6" height="133.8" fill="none" stroke="#e51e2c" stroke-width="1.1"/>
<text x="2048.7" y="797.55" font-size="13.89" text-anchor="middle">0</text>
<text x="2037.36" y="649.79" font-size="13.89" text-anchor="end">0</text>
<text x="2102.14" y="797.55" font-size="13.89" text-anchor="middle">20</text>
<text x="2037.36" y="703.23" font-size="13.89" text-anchor="end">20</text>
<text x="2155.58" y="797.55" font-size="13.89" text-anchor="middle">40</text>
<text x="2037.36" y="756.67" font-size="13.89" text-anchor="end">40</text>
<path d="M2048.7 777.05v4.9M2047.36 644.59h-4.9M2102.14 777.05v4.9M2047.36 698.03h-4.9M2155.58 777.05v4.9M2047.36 751.47h-4.9" stroke="#111" stroke-width="1.1" fill="none"/>
<text x="2310.68" y="634.85" font-size="16.4" text-anchor="middle">845897</text>
<g filter="url(#nB0)"><rect x="2245.18" y="643.25" width="133.6" height="133.8" fill="rgb(189,189,189)"/>
<circle cx="2314.65" cy="713.26" r="30" fill="url(#gB)"/></g>
<rect x="2245.18" y="643.25" width="133.6" height="133.8" fill="none" stroke="#e51e2c" stroke-width="1.1"/>
<text x="2246.52" y="797.55" font-size="13.89" text-anchor="middle">0</text>
<text x="2235.18" y="649.79" font-size="13.89" text-anchor="end">0</text>
<text x="2299.96" y="797.55" font-size="13.89" text-anchor="middle">20</text>
<text x="2235.18" y="703.23" font-size="13.89" text-anchor="end">20</text>
<text x="2353.4" y="797.55" font-size="13.89" text-anchor="middle">40</text>
<text x="2235.18" y="756.67" font-size="13.89" text-anchor="end">40</text>
<path d="M2246.52 777.05v4.9M2245.18 644.59h-4.9M2299.96 777.05v4.9M2245.18 698.03h-4.9M2353.4 777.05v4.9M2245.18 751.47h-4.9" stroke="#111" stroke-width="1.1" fill="none"/>
<text x="2508.5" y="634.85" font-size="16.4" text-anchor="middle">845898</text>
<g filter="url(#nB0)"><rect x="2443" y="643.25" width="133.6" height="133.8" fill="rgb(189,189,189)"/>
<circle cx="2512.47" cy="713.26" r="30" fill="url(#gB)"/></g>
<rect x="2443" y="643.25" width="133.6" height="133.8" fill="none" stroke="#e51e2c" stroke-width="1.1"/>
<text x="2444.34" y="797.55" font-size="13.89" text-anchor="middle">0</text>
<text x="2433" y="649.79" font-size="13.89" text-anchor="end">0</text>
<text x="2497.78" y="797.55" font-size="13.89" text-anchor="middle">20</text>
<text x="2433" y="703.23" font-size="13.89" text-anchor="end">20</text>
<text x="2551.22" y="797.55" font-size="13.89" text-anchor="middle">40</text>
<text x="2433" y="756.67" font-size="13.89" text-anchor="end">40</text>
<path d="M2444.34 777.05v4.9M2443 644.59h-4.9M2497.78 777.05v4.9M2443 698.03h-4.9M2551.22 777.05v4.9M2443 751.47h-4.9" stroke="#111" stroke-width="1.1" fill="none"/>
<text x="2706.32" y="634.85" font-size="16.4" text-anchor="middle">845899</text>
<g filter="url(#nB1)"><rect x="2640.82" y="643.25" width="133.6" height="133.8" fill="rgb(144,144,144)"/>
<circle cx="2710.29" cy="713.26" r="48" fill="url(#gB)"/></g>
<rect x="2640.82" y="643.25" width="133.6" height="133.8" fill="none" stroke="#e51e2c" stroke-width="1.1"/>
<text x="2642.16" y="797.55" font-size="13.89" text-anchor="middle">0</text>
<text x="2630.82" y="649.79" font-size="13.89" text-anchor="end">0</text>
<text x="2695.6" y="797.55" font-size="13.89" text-anchor="middle">20</text>
<text x="2630.82" y="703.23" font-size="13.89" text-anchor="end">20</text>
<text x="2749.04" y="797.55" font-size="13.89" text-anchor="middle">40</text>
<text x="2630.82" y="756.67" font-size="13.89" text-anchor="end">40</text>
<path d="M2642.16 777.05v4.9M2640.82 644.59h-4.9M2695.6 777.05v4.9M2640.82 698.03h-4.9M2749.04 777.05v4.9M2640.82 751.47h-4.9" stroke="#111" stroke-width="1.1" fill="none"/>
<text x="1519.4" y="827.4" font-size="16.4" text-anchor="middle">845900</text>
<g filter="url(#nB0)"><rect x="1453.9" y="835.8" width="133.6" height="133.8" fill="rgb(163,163,163)"/>
<circle cx="1523.37" cy="905.81" r="36" fill="url(#gB)"/></g>
<rect x="1453.9" y="835.8" width="133.6" height="133.8" fill="none" stroke="#e51e2c" stroke-width="1.1"/>
<text x="1455.24" y="990.1" font-size="13.89" text-anchor="middle">0</text>
<text x="1443.9" y="842.34" font-size="13.89" text-anchor="end">0</text>
<text x="1508.68" y="990.1" font-size="13.89" text-anchor="middle">20</text>
<text x="1443.9" y="895.78" font-size="13.89" text-anchor="end">20</text>
<text x="1562.12" y="990.1" font-size="13.89" text-anchor="middle">40</text>
<text x="1443.9" y="949.22" font-size="13.89" text-anchor="end">40</text>
<path d="M1455.24 969.6v4.9M1453.9 837.14h-4.9M1508.68 969.6v4.9M1453.9 890.58h-4.9M1562.12 969.6v4.9M1453.9 944.02h-4.9" stroke="#111" stroke-width="1.1" fill="none"/>
<text x="1717.22" y="827.4" font-size="16.4" text-anchor="middle">845901</text>
<g filter="url(#nB0)"><rect x="1651.72" y="835.8" width="133.6" height="133.8" fill="rgb(189,189,189)"/>
<circle cx="1721.19" cy="905.81" r="30" fill="url(#gB)"/></g>
<rect x="1651.72" y="835.8" width="133.6" height="133.8" fill="none" stroke="#e51e2c" stroke-width="1.1"/>
<text x="1653.06" y="990.1" font-size="13.89" text-anchor="middle">0</text>
<text x="1641.72" y="842.34" font-size="13.89" text-anchor="end">0</text>
<text x="1706.5" y="990.1" font-size="13.89" text-anchor="middle">20</text>
<text x="1641.72" y="895.78" font-size="13.89" text-anchor="end">20</text>
<text x="1759.94" y="990.1" font-size="13.89" text-anchor="middle">40</text>
<text x="1641.72" y="949.22" font-size="13.89" text-anchor="end">40</text>
<path d="M1653.06 969.6v4.9M1651.72 837.14h-4.9M1706.5 969.6v4.9M1651.72 890.58h-4.9M1759.94 969.6v4.9M1651.72 944.02h-4.9" stroke="#111" stroke-width="1.1" fill="none"/>
<text x="1915.04" y="827.4" font-size="16.4" text-anchor="middle">845902</text>
<g filter="url(#nB0)"><rect x="1849.54" y="835.8" width="133.6" height="133.8" fill="rgb(189,189,189)"/>
<circle cx="1919.01" cy="905.81" r="30" fill="url(#gB)"/></g>
<rect x="1849.54" y="835.8" width="133.6" height="133.8" fill="none" stroke="#e51e2c" stroke-width="1.1"/>
<text x="1850.88" y="990.1" font-size="13.89" text-anchor="middle">0</text>
<text x="1839.54" y="842.34" font-size="13.89" text-anchor="end">0</text>
<text x="1904.32" y="990.1" font-size="13.89" text-anchor="middle">20</text>
<text x="1839.54" y="895.78" font-size="13.89" text-anchor="end">20</text>
<text x="1957.76" y="990.1" font-size="13.89" text-anchor="middle">40</text>
<text x="1839.54" y="949.22" font-size="13.89" text-anchor="end">40</text>
<path d="M1850.88 969.6v4.9M1849.54 837.14h-4.9M1904.32 969.6v4.9M1849.54 890.58h-4.9M1957.76 969.6v4.9M1849.54 944.02h-4.9" stroke="#111" stroke-width="1.1" fill="none"/>
<text x="2112.86" y="827.4" font-size="16.4" text-anchor="middle">845903</text>
<g filter="url(#nB0)"><rect x="2047.36" y="835.8" width="133.6" height="133.8" fill="rgb(177,177,177)"/>
<circle cx="2116.83" cy="905.81" r="30" fill="url(#gB)"/></g>
<rect x="2047.36" y="835.8" width="133.6" height="133.8" fill="none" stroke="#111" stroke-width="1.1"/>
<text x="2048.7" y="990.1" font-size="13.89" text-anchor="middle">0</text>
<text x="2037.36" y="842.34" font-size="13.89" text-anchor="end">0</text>
<text x="2102.14" y="990.1" font-size="13.89" text-anchor="middle">20</text>
<text x="2037.36" y="895.78" font-size="13.89" text-anchor="end">20</text>
<text x="2155.58" y="990.1" font-size="13.89" text-anchor="middle">40</text>
<text x="2037.36" y="949.22" font-size="13.89" text-anchor="end">40</text>
<path d="M2048.7 969.6v4.9M2047.36 837.14h-4.9M2102.14 969.6v4.9M2047.36 890.58h-4.9M2155.58 969.6v4.9M2047.36 944.02h-4.9" stroke="#111" stroke-width="1.1" fill="none"/>
<text x="2310.68" y="827.4" font-size="16.4" text-anchor="middle">845904</text>
<g filter="url(#nB0)"><rect x="2245.18" y="835.8" width="133.6" height="133.8" fill="rgb(187,187,187)"/>
<circle cx="2314.65" cy="905.81" r="30" fill="url(#gB)"/></g>
<rect x="2245.18" y="835.8" width="133.6" height="14.43" fill="rgb(192,192,192)"/>
<rect x="2245.18" y="835.8" width="133.6" height="133.8" fill="none" stroke="#111" stroke-width="1.1"/>
<text x="2246.52" y="990.1" font-size="13.89" text-anchor="middle">0</text>
<text x="2235.18" y="842.34" font-size="13.89" text-anchor="end">0</text>
<text x="2299.96" y="990.1" font-size="13.89" text-anchor="middle">20</text>
<text x="2235.18" y="895.78" font-size="13.89" text-anchor="end">20</text>
<text x="2353.4" y="990.1" font-size="13.89" text-anchor="middle">40</text>
<text x="2235.18" y="949.22" font-size="13.89" text-anchor="end">40</text>
<path d="M2246.52 969.6v4.9M2245.18 837.14h-4.9M2299.96 969.6v4.9M2245.18 890.58h-4.9M2353.4 969.6v4.9M2245.18 944.02h-4.9" stroke="#111" stroke-width="1.1" fill="none"/>
<text x="2508.5" y="827.4" font-size="16.4" text-anchor="middle">845905</text>
<g filter="url(#nB0)"><rect x="2443" y="835.8" width="133.6" height="133.8" fill="rgb(192,192,192)"/>
<circle cx="2512.47" cy="905.81" r="30" fill="url(#gB)"/></g>
<rect x="2443" y="835.8" width="133.6" height="10.15" fill="rgb(198,198,198)"/>
<rect x="2443" y="835.8" width="133.6" height="133.8" fill="none" stroke="#111" stroke-width="1.1"/>
<text x="2444.34" y="990.1" font-size="13.89" text-anchor="middle">0</text>
<text x="2433" y="842.34" font-size="13.89" text-anchor="end">0</text>
<text x="2497.78" y="990.1" font-size="13.89" text-anchor="middle">20</text>
<text x="2433" y="895.78" font-size="13.89" text-anchor="end">20</text>
<text x="2551.22" y="990.1" font-size="13.89" text-anchor="middle">40</text>
<text x="2433" y="949.22" font-size="13.89" text-anchor="end">40</text>
<path d="M2444.34 969.6v4.9M2443 837.14h-4.9M2497.78 969.6v4.9M2443 890.58h-4.9M2551.22 969.6v4.9M2443 944.02h-4.9" stroke="#111" stroke-width="1.1" fill="none"/>
<text x="2706.32" y="827.4" font-size="16.4" text-anchor="middle">845906</text>
<g filter="url(#nB0)"><rect x="2640.82" y="835.8" width="133.6" height="133.8" fill="rgb(202,202,202)"/>
<circle cx="2710.29" cy="905.81" r="30" fill="url(#gB)"/></g>
<rect x="2640.82" y="835.8" width="133.6" height="20.31" fill="rgb(201,201,201)"/>
<rect x="2640.82" y="835.8" width="133.6" height="133.8" fill="none" stroke="#111" stroke-width="1.1"/>
<text x="2642.16" y="990.1" font-size="13.89" text-anchor="middle">0</text>
<text x="2630.82" y="842.34" font-size="13.89" text-anchor="end">0</text>
<text x="2695.6" y="990.1" font-size="13.89" text-anchor="middle">20</text>
<text x="2630.82" y="895.78" font-size="13.89" text-anchor="end">20</text>
<text x="2749.04" y="990.1" font-size="13.89" text-anchor="middle">40</text>
<text x="2630.82" y="949.22" font-size="13.89" text-anchor="end">40</text>
<path d="M2642.16 969.6v4.9M2640.82 837.14h-4.9M2695.6 969.6v4.9M2640.82 890.58h-4.9M2749.04 969.6v4.9M2640.82 944.02h-4.9" stroke="#111" stroke-width="1.1" fill="none"/>
<text x="1519.4" y="1019.95" font-size="16.4" text-anchor="middle">845907</text>
<g filter="url(#nB0)"><rect x="1453.9" y="1028.35" width="133.6" height="133.8" fill="rgb(194,194,194)"/>
<circle cx="1523.37" cy="1098.36" r="30" fill="url(#gB)"/></g>
<rect x="1453.9" y="1028.35" width="133.6" height="25.38" fill="rgb(203,203,203)"/>
<rect x="1453.9" y="1028.35" width="133.6" height="133.8" fill="none" stroke="#111" stroke-width="1.1"/>
<text x="1455.24" y="1182.65" font-size="13.89" text-anchor="middle">0</text>
<text x="1443.9" y="1034.89" font-size="13.89" text-anchor="end">0</text>
<text x="1508.68" y="1182.65" font-size="13.89" text-anchor="middle">20</text>
<text x="1443.9" y="1088.33" font-size="13.89" text-anchor="end">20</text>
<text x="1562.12" y="1182.65" font-size="13.89" text-anchor="middle">40</text>
<text x="1443.9" y="1141.77" font-size="13.89" text-anchor="end">40</text>
<path d="M1455.24 1162.15v4.9M1453.9 1029.69h-4.9M1508.68 1162.15v4.9M1453.9 1083.13h-4.9M1562.12 1162.15v4.9M1453.9 1136.57h-4.9" stroke="#111" stroke-width="1.1" fill="none"/>
<text x="1717.22" y="1019.95" font-size="16.4" text-anchor="middle">845909</text>
<g filter="url(#nB0)"><rect x="1651.72" y="1028.35" width="133.6" height="133.8" fill="rgb(182,182,182)"/>
<circle cx="1721.19" cy="1098.36" r="30" fill="url(#gB)"/></g>
<rect x="1651.72" y="1028.35" width="133.6" height="24.85" fill="rgb(189,189,189)"/>
<rect x="1651.72" y="1028.35" width="133.6" height="133.8" fill="none" stroke="#111" stroke-width="1.1"/>
<text x="1653.06" y="1182.65" font-size="13.89" text-anchor="middle">0</text>
<text x="1641.72" y="1034.89" font-size="13.89" text-anchor="end">0</text>
<text x="1706.5" y="1182.65" font-size="13.89" text-anchor="middle">20</text>
<text x="1641.72" y="1088.33" font-size="13.89" text-anchor="end">20</text>
<text x="1759.94" y="1182.65" font-size="13.89" text-anchor="middle">40</text>
<text x="1641.72" y="1141.77" font-size="13.89" text-anchor="end">40</text>
<path d="M1653.06 1162.15v4.9M1651.72 1029.69h-4.9M1706.5 1162.15v4.9M1651.72 1083.13h-4.9M1759.94 1162.15v4.9M1651.72 1136.57h-4.9" stroke="#111" stroke-width="1.1" fill="none"/>
</g>
<g id="lc">
<text transform="translate(699,1097.6) scale(0.78,1)" font-size="33.5" text-anchor="middle">cluster 978</text>
<path d="M149.7 1302.68V1341M164.32 1306.59V1356.64M178.94 1160.65V1213.21M193.56 1226.5V1276.4M222.8 1188.49V1235.73M252.04 1246.37V1295.95M354.38 1244.8V1288.91M369 1237.76V1286.25M398.24 1268.58V1316.76M442.1 1240.42V1285M471.34 1290.95V1335.53M485.96 1305.02V1346.79M500.58 1259.19V1303.46M515.2 1281.56V1324.58M529.82 1272.96V1317.54M544.44 1237.76V1297.67M559.06 1253.41V1303.46M573.68 1262.01V1308.93M588.3 1344.13V1387.93" stroke="#1f77b4" stroke-width="3.1" fill="none"/>
<path d="M208.18 1239.33V1290.48M237.42 1274.52V1319.88M266.66 1225.25V1274.83M281.28 1254.97V1306.12M295.9 1173.16V1230.72M310.52 1294.39V1343.82M325.14 1228.38V1278.43M339.76 1256.53V1302.68M383.62 1253.41V1301.11M412.86 1280.78V1326.45M427.48 1243.24V1283.13M456.72 1316.76V1359.77M602.92 1240.89V1285M617.54 1294.54V1343.35M632.16 1269.05V1314.41M646.78 1250.59V1294.86M661.4 1313.16V1353.51M676.02 1301.11V1344.91" stroke="#ff7f0e" stroke-width="3.1" fill="none"/>
<g fill="#1f77b4"><ellipse cx="149.7" cy="1321.76" rx="2.8" ry="3.6"/><ellipse cx="164.32" cy="1331.62" rx="2.8" ry="3.6"/><ellipse cx="178.94" cy="1186.93" rx="2.8" ry="3.6"/><ellipse cx="193.56" cy="1251.53" rx="2.8" ry="3.6"/><ellipse cx="222.8" cy="1212.27" rx="2.8" ry="3.6"/><ellipse cx="252.04" cy="1271.39" rx="2.8" ry="3.6"/><ellipse cx="354.38" cy="1266.7" rx="2.8" ry="3.6"/><ellipse cx="369" cy="1262.79" rx="2.8" ry="3.6"/><ellipse cx="398.24" cy="1294.07" rx="2.8" ry="3.6"/><ellipse cx="442.1" cy="1262.79" rx="2.8" ry="3.6"/><ellipse cx="471.34" cy="1313.16" rx="2.8" ry="3.6"/><ellipse cx="485.96" cy="1326.14" rx="2.8" ry="3.6"/><ellipse cx="500.58" cy="1281.09" rx="2.8" ry="3.6"/><ellipse cx="515.2" cy="1303.46" rx="2.8" ry="3.6"/><ellipse cx="529.82" cy="1295.17" rx="2.8" ry="3.6"/><ellipse cx="544.44" cy="1268.27" rx="2.8" ry="3.6"/><ellipse cx="559.06" cy="1277.96" rx="2.8" ry="3.6"/><ellipse cx="573.68" cy="1285.16" rx="2.8" ry="3.6"/><ellipse cx="588.3" cy="1365.25" rx="2.8" ry="3.6"/></g>
<g fill="#ff7f0e"><ellipse cx="208.18" cy="1264.35" rx="2.8" ry="3.6"/><ellipse cx="237.42" cy="1297.99" rx="2.8" ry="3.6"/><ellipse cx="266.66" cy="1249.96" rx="2.8" ry="3.6"/><ellipse cx="281.28" cy="1281.25" rx="2.8" ry="3.6"/><ellipse cx="295.9" cy="1202.26" rx="2.8" ry="3.6"/><ellipse cx="310.52" cy="1319.1" rx="2.8" ry="3.6"/><ellipse cx="325.14" cy="1252.62" rx="2.8" ry="3.6"/><ellipse cx="339.76" cy="1279.21" rx="2.8" ry="3.6"/><ellipse cx="383.62" cy="1276.87" rx="2.8" ry="3.6"/><ellipse cx="412.86" cy="1303.77" rx="2.8" ry="3.6"/><ellipse cx="427.48" cy="1262.79" rx="2.8" ry="3.6"/><ellipse cx="456.72" cy="1338.65" rx="2.8" ry="3.6"/><ellipse cx="602.92" cy="1262.79" rx="2.8" ry="3.6"/><ellipse cx="617.54" cy="1317.54" rx="2.8" ry="3.6"/><ellipse cx="632.16" cy="1291.73" rx="2.8" ry="3.6"/><ellipse cx="646.78" cy="1271.08" rx="2.8" ry="3.6"/><ellipse cx="661.4" cy="1334.74" rx="2.8" ry="3.6"/><ellipse cx="676.02" cy="1323.01" rx="2.8" ry="3.6"/></g>
<rect x="122.6" y="1146.4" width="580.4" height="251.9" fill="none" stroke="#111" stroke-width="2.2"/>
<text transform="translate(106.6,1181) scale(0.71,1)" font-size="29.5" text-anchor="end">5500</text>
<text transform="translate(106.6,1263.3) scale(0.71,1)" font-size="29.5" text-anchor="end">5000</text>
<text transform="translate(106.6,1345.9) scale(0.71,1)" font-size="29.5" text-anchor="end">4500</text>
<path d="M149.7 1398.3v10M222.8 1398.3v10M295.9 1398.3v10M369 1398.3v10M442.1 1398.3v10M515.2 1398.3v10M588.3 1398.3v10M661.4 1398.3v10M122.6 1169.7h-6.6M122.6 1252h-6.6M122.6 1334.6h-6.6" stroke="#111" stroke-width="2.1" fill="none"/>
<text transform="translate(40.5,1276.65) rotate(-90) scale(1,0.76)" font-size="28.3" text-anchor="middle">Flux</text>
<g fill="#1f77b4"><ellipse cx="149.7" cy="1619.48" rx="2.8" ry="3.6"/><ellipse cx="164.32" cy="1632.39" rx="2.8" ry="3.6"/><ellipse cx="178.94" cy="1452.59" rx="2.8" ry="3.6"/><ellipse cx="193.56" cy="1529.68" rx="2.8" ry="3.6"/><ellipse cx="222.8" cy="1481.83" rx="2.8" ry="3.6"/><ellipse cx="252.04" cy="1552.27" rx="2.8" ry="3.6"/><ellipse cx="354.38" cy="1548.28" rx="2.8" ry="3.6"/><ellipse cx="369" cy="1542.59" rx="2.8" ry="3.6"/><ellipse cx="398.24" cy="1581.7" rx="2.8" ry="3.6"/><ellipse cx="442.1" cy="1542.4" rx="2.8" ry="3.6"/><ellipse cx="471.34" cy="1607.14" rx="2.8" ry="3.6"/><ellipse cx="485.96" cy="1623.85" rx="2.8" ry="3.6"/><ellipse cx="500.58" cy="1566.13" rx="2.8" ry="3.6"/><ellipse cx="515.2" cy="1594.23" rx="2.8" ry="3.6"/><ellipse cx="529.82" cy="1584.55" rx="2.8" ry="3.6"/><ellipse cx="544.44" cy="1549.42" rx="2.8" ry="3.6"/><ellipse cx="559.06" cy="1561.95" rx="2.8" ry="3.6"/><ellipse cx="573.68" cy="1570.5" rx="2.8" ry="3.6"/><ellipse cx="588.3" cy="1680.05" rx="2.8" ry="3.6"/></g>
<g fill="#ff7f0e"><ellipse cx="208.18" cy="1545.06" rx="2.8" ry="3.6"/><ellipse cx="237.42" cy="1587.4" rx="2.8" ry="3.6"/><ellipse cx="266.66" cy="1527.21" rx="2.8" ry="3.6"/><ellipse cx="281.28" cy="1564.99" rx="2.8" ry="3.6"/><ellipse cx="295.9" cy="1470.63" rx="2.8" ry="3.6"/><ellipse cx="310.52" cy="1615.3" rx="2.8" ry="3.6"/><ellipse cx="325.14" cy="1529.49" rx="2.8" ry="3.6"/><ellipse cx="339.76" cy="1563.66" rx="2.8" ry="3.6"/><ellipse cx="383.62" cy="1560.62" rx="2.8" ry="3.6"/><ellipse cx="412.86" cy="1595.94" rx="2.8" ry="3.6"/><ellipse cx="427.48" cy="1543.92" rx="2.8" ry="3.6"/><ellipse cx="456.72" cy="1640.75" rx="2.8" ry="3.6"/><ellipse cx="602.92" cy="1542.4" rx="2.8" ry="3.6"/><ellipse cx="617.54" cy="1613.98" rx="2.8" ry="3.6"/><ellipse cx="632.16" cy="1578.66" rx="2.8" ry="3.6"/><ellipse cx="646.78" cy="1553.79" rx="2.8" ry="3.6"/><ellipse cx="661.4" cy="1636.38" rx="2.8" ry="3.6"/><ellipse cx="676.02" cy="1621" rx="2.8" ry="3.6"/></g>
<rect x="122.6" y="1439" width="580.4" height="250.8" fill="none" stroke="#111" stroke-width="2.2"/>
<text transform="translate(106.6,1492.6) scale(0.71,1)" font-size="29.5" text-anchor="end">21.7</text>
<text transform="translate(106.6,1585.6) scale(0.71,1)" font-size="29.5" text-anchor="end">21.8</text>
<text transform="translate(106.6,1679) scale(0.71,1)" font-size="29.5" text-anchor="end">21.9</text>
<path d="M149.7 1689.8v10M222.8 1689.8v10M295.9 1689.8v10M369 1689.8v10M442.1 1689.8v10M515.2 1689.8v10M588.3 1689.8v10M661.4 1689.8v10M122.6 1481.3h-6.6M122.6 1574.3h-6.6M122.6 1667.7h-6.6" stroke="#111" stroke-width="2.1" fill="none"/>
<text transform="translate(47.1,1568.7) rotate(-90) scale(1,0.76)" font-size="28.3" text-anchor="middle">Mag</text>
<g fill="#1f77b4"><ellipse cx="149.7" cy="1788.35" rx="2.8" ry="3.6"/><ellipse cx="164.32" cy="1919.16" rx="2.8" ry="3.6"/><ellipse cx="178.94" cy="1879.67" rx="2.8" ry="3.6"/><ellipse cx="193.56" cy="1868.28" rx="2.8" ry="3.6"/><ellipse cx="222.8" cy="1816.64" rx="2.8" ry="3.6"/><ellipse cx="252.04" cy="1888.03" rx="2.8" ry="3.6"/><ellipse cx="354.38" cy="1832.02" rx="2.8" ry="3.6"/><ellipse cx="369" cy="1875.69" rx="2.8" ry="3.6"/><ellipse cx="398.24" cy="1876.83" rx="2.8" ry="3.6"/><ellipse cx="442.1" cy="1816.64" rx="2.8" ry="3.6"/><ellipse cx="471.34" cy="1847.21" rx="2.8" ry="3.6"/><ellipse cx="485.96" cy="1822.15" rx="2.8" ry="3.6"/><ellipse cx="500.58" cy="1819.49" rx="2.8" ry="3.6"/><ellipse cx="515.2" cy="1823.47" rx="2.8" ry="3.6"/><ellipse cx="529.82" cy="1845.88" rx="2.8" ry="3.6"/><ellipse cx="544.44" cy="1972.33" rx="2.8" ry="3.6"/><ellipse cx="559.06" cy="1903.41" rx="2.8" ry="3.6"/><ellipse cx="573.68" cy="1869.99" rx="2.8" ry="3.6"/><ellipse cx="588.3" cy="1864.29" rx="2.8" ry="3.6"/></g>
<g fill="#ff7f0e"><ellipse cx="208.18" cy="1900.94" rx="2.8" ry="3.6"/><ellipse cx="237.42" cy="1854.42" rx="2.8" ry="3.6"/><ellipse cx="266.66" cy="1871.13" rx="2.8" ry="3.6"/><ellipse cx="281.28" cy="1902.08" rx="2.8" ry="3.6"/><ellipse cx="295.9" cy="1913.47" rx="2.8" ry="3.6"/><ellipse cx="310.52" cy="1912.14" rx="2.8" ry="3.6"/><ellipse cx="325.14" cy="1869.8" rx="2.8" ry="3.6"/><ellipse cx="339.76" cy="1864.48" rx="2.8" ry="3.6"/><ellipse cx="383.62" cy="1866.95" rx="2.8" ry="3.6"/><ellipse cx="412.86" cy="1850.24" rx="2.8" ry="3.6"/><ellipse cx="427.48" cy="1744.87" rx="2.8" ry="3.6"/><ellipse cx="456.72" cy="1865.81" rx="2.8" ry="3.6"/><ellipse cx="602.92" cy="1803.73" rx="2.8" ry="3.6"/><ellipse cx="617.54" cy="1909.1" rx="2.8" ry="3.6"/><ellipse cx="632.16" cy="1844.74" rx="2.8" ry="3.6"/><ellipse cx="646.78" cy="1808.1" rx="2.8" ry="3.6"/><ellipse cx="661.4" cy="1813.6" rx="2.8" ry="3.6"/><ellipse cx="676.02" cy="1857.46" rx="2.8" ry="3.6"/></g>
<rect x="122.6" y="1732.8" width="580.4" height="251.4" fill="none" stroke="#111" stroke-width="2.2"/>
<text transform="translate(149.7,2026.2) scale(0.71,1)" font-size="29.5" text-anchor="middle">0</text>
<text transform="translate(222.8,2026.2) scale(0.71,1)" font-size="29.5" text-anchor="middle">5</text>
<text transform="translate(295.9,2026.2) scale(0.71,1)" font-size="29.5" text-anchor="middle">10</text>
<text transform="translate(369,2026.2) scale(0.71,1)" font-size="29.5" text-anchor="middle">15</text>
<text transform="translate(442.1,2026.2) scale(0.71,1)" font-size="29.5" text-anchor="middle">20</text>
<text transform="translate(515.2,2026.2) scale(0.71,1)" font-size="29.5" text-anchor="middle">25</text>
<text transform="translate(588.3,2026.2) scale(0.71,1)" font-size="29.5" text-anchor="middle">30</text>
<text transform="translate(661.4,2026.2) scale(0.71,1)" font-size="29.5" text-anchor="middle">35</text>
<text transform="translate(106.6,1765.5) scale(0.71,1)" font-size="29.5" text-anchor="end">40</text>
<text transform="translate(106.6,1848.1) scale(0.71,1)" font-size="29.5" text-anchor="end">35</text>
<text transform="translate(106.6,1930.7) scale(0.71,1)" font-size="29.5" text-anchor="end">30</text>
<path d="M149.7 1984.2v10M222.8 1984.2v10M295.9 1984.2v10M369 1984.2v10M442.1 1984.2v10M515.2 1984.2v10M588.3 1984.2v10M661.4 1984.2v10M122.6 1754.2h-6.6M122.6 1836.8h-6.6M122.6 1919.4h-6.6" stroke="#111" stroke-width="2.1" fill="none"/>
<text transform="translate(66.1,1862.8) rotate(-90) scale(1,0.76)" font-size="28.3" text-anchor="middle">SNR</text>
<text transform="translate(412.8,2067) scale(0.76,1)" font-size="28.3" text-anchor="middle">Obs #</text>
<path d="M822.8 1302.68V1341M837.47 1306.59V1356.64M852.13 1160.65V1213.21M866.8 1226.5V1276.4M881.46 1239.33V1290.48M896.13 1188.49V1235.73M910.8 1274.52V1319.88M925.46 1246.37V1295.95M940.13 1225.25V1274.83M954.79 1254.97V1306.12M969.46 1173.16V1230.72M984.13 1294.39V1343.82M998.79 1228.38V1278.43M1013.46 1256.53V1302.68M1028.12 1244.8V1288.91M1042.79 1237.76V1286.25M1057.46 1253.41V1301.11M1072.12 1268.58V1316.76M1086.79 1280.78V1326.45M1101.45 1243.24V1283.13M1116.12 1240.42V1285M1130.79 1316.76V1359.77M1145.45 1290.95V1335.53M1160.12 1305.02V1346.79M1174.78 1259.19V1303.46M1189.45 1281.56V1324.58M1204.12 1272.96V1317.54M1218.78 1237.76V1297.67M1233.45 1253.41V1303.46M1248.11 1262.01V1308.93" stroke="#1f77b4" stroke-width="3.1" fill="none"/>
<path d="M1262.78 1344.13V1387.93M1277.45 1240.89V1285M1292.11 1294.54V1343.35M1306.78 1269.05V1314.41M1321.44 1250.59V1294.86M1336.11 1313.16V1353.51M1350.78 1301.11V1344.91" stroke="#ff7f0e" stroke-width="3.1" fill="none"/>
<g fill="#1f77b4"><ellipse cx="822.8" cy="1321.76" rx="2.8" ry="3.6"/><ellipse cx="837.47" cy="1331.62" rx="2.8" ry="3.6"/><ellipse cx="852.13" cy="1186.93" rx="2.8" ry="3.6"/><ellipse cx="866.8" cy="1251.53" rx="2.8" ry="3.6"/><ellipse cx="881.46" cy="1264.35" rx="2.8" ry="3.6"/><ellipse cx="896.13" cy="1212.27" rx="2.8" ry="3.6"/><ellipse cx="910.8" cy="1297.99" rx="2.8" ry="3.6"/><ellipse cx="925.46" cy="1271.39" rx="2.8" ry="3.6"/><ellipse cx="940.13" cy="1249.96" rx="2.8" ry="3.6"/><ellipse cx="954.79" cy="1281.25" rx="2.8" ry="3.6"/><ellipse cx="969.46" cy="1202.26" rx="2.8" ry="3.6"/><ellipse cx="984.13" cy="1319.1" rx="2.8" ry="3.6"/><ellipse cx="998.79" cy="1252.62" rx="2.8" ry="3.6"/><ellipse cx="1013.46" cy="1279.21" rx="2.8" ry="3.6"/><ellipse cx="1028.12" cy="1266.7" rx="2.8" ry="3.6"/><ellipse cx="1042.79" cy="1262.79" rx="2.8" ry="3.6"/><ellipse cx="1057.46" cy="1276.87" rx="2.8" ry="3.6"/><ellipse cx="1072.12" cy="1294.07" rx="2.8" ry="3.6"/><ellipse cx="1086.79" cy="1303.77" rx="2.8" ry="3.6"/><ellipse cx="1101.45" cy="1262.79" rx="2.8" ry="3.6"/><ellipse cx="1116.12" cy="1262.79" rx="2.8" ry="3.6"/><ellipse cx="1130.79" cy="1338.65" rx="2.8" ry="3.6"/><ellipse cx="1145.45" cy="1313.16" rx="2.8" ry="3.6"/><ellipse cx="1160.12" cy="1326.14" rx="2.8" ry="3.6"/><ellipse cx="1174.78" cy="1281.09" rx="2.8" ry="3.6"/><ellipse cx="1189.45" cy="1303.46" rx="2.8" ry="3.6"/><ellipse cx="1204.12" cy="1295.17" rx="2.8" ry="3.6"/><ellipse cx="1218.78" cy="1268.27" rx="2.8" ry="3.6"/><ellipse cx="1233.45" cy="1277.96" rx="2.8" ry="3.6"/><ellipse cx="1248.11" cy="1285.16" rx="2.8" ry="3.6"/></g>
<g fill="#ff7f0e"><ellipse cx="1262.78" cy="1365.25" rx="2.8" ry="3.6"/><ellipse cx="1277.45" cy="1262.79" rx="2.8" ry="3.6"/><ellipse cx="1292.11" cy="1317.54" rx="2.8" ry="3.6"/><ellipse cx="1306.78" cy="1291.73" rx="2.8" ry="3.6"/><ellipse cx="1321.44" cy="1271.08" rx="2.8" ry="3.6"/><ellipse cx="1336.11" cy="1334.74" rx="2.8" ry="3.6"/><ellipse cx="1350.78" cy="1323.01" rx="2.8" ry="3.6"/></g>
<rect x="796.6" y="1146.4" width="579.8" height="251.9" fill="none" stroke="#111" stroke-width="2.2"/>
<text transform="translate(780.6,1181) scale(0.71,1)" font-size="29.5" text-anchor="end">5500</text>
<text transform="translate(780.6,1263.3) scale(0.71,1)" font-size="29.5" text-anchor="end">5000</text>
<text transform="translate(780.6,1345.9) scale(0.71,1)" font-size="29.5" text-anchor="end">4500</text>
<path d="M822.8 1398.3v10M896.13 1398.3v10M969.46 1398.3v10M1042.79 1398.3v10M1116.12 1398.3v10M1189.45 1398.3v10M1262.78 1398.3v10M1336.11 1398.3v10M796.6 1169.7h-6.6M796.6 1252h-6.6M796.6 1334.6h-6.6" stroke="#111" stroke-width="2.1" fill="none"/>
<g fill="#1f77b4"><ellipse cx="822.8" cy="1619.48" rx="2.8" ry="3.6"/><ellipse cx="837.47" cy="1632.39" rx="2.8" ry="3.6"/><ellipse cx="852.13" cy="1452.59" rx="2.8" ry="3.6"/><ellipse cx="866.8" cy="1529.68" rx="2.8" ry="3.6"/><ellipse cx="881.46" cy="1545.06" rx="2.8" ry="3.6"/><ellipse cx="896.13" cy="1481.83" rx="2.8" ry="3.6"/><ellipse cx="910.8" cy="1587.4" rx="2.8" ry="3.6"/><ellipse cx="925.46" cy="1552.27" rx="2.8" ry="3.6"/><ellipse cx="940.13" cy="1527.21" rx="2.8" ry="3.6"/><ellipse cx="954.79" cy="1564.99" rx="2.8" ry="3.6"/><ellipse cx="969.46" cy="1470.63" rx="2.8" ry="3.6"/><ellipse cx="984.13" cy="1615.3" rx="2.8" ry="3.6"/><ellipse cx="998.79" cy="1529.49" rx="2.8" ry="3.6"/><ellipse cx="1013.46" cy="1563.66" rx="2.8" ry="3.6"/><ellipse cx="1028.12" cy="1548.28" rx="2.8" ry="3.6"/><ellipse cx="1042.79" cy="1542.59" rx="2.8" ry="3.6"/><ellipse cx="1057.46" cy="1560.62" rx="2.8" ry="3.6"/><ellipse cx="1072.12" cy="1581.7" rx="2.8" ry="3.6"/><ellipse cx="1086.79" cy="1595.94" rx="2.8" ry="3.6"/><ellipse cx="1101.45" cy="1543.92" rx="2.8" ry="3.6"/><ellipse cx="1116.12" cy="1542.4" rx="2.8" ry="3.6"/><ellipse cx="1130.79" cy="1640.75" rx="2.8" ry="3.6"/><ellipse cx="1145.45" cy="1607.14" rx="2.8" ry="3.6"/><ellipse cx="1160.12" cy="1623.85" rx="2.8" ry="3.6"/><ellipse cx="1174.78" cy="1566.13" rx="2.8" ry="3.6"/><ellipse cx="1189.45" cy="1594.23" rx="2.8" ry="3.6"/><ellipse cx="1204.12" cy="1584.55" rx="2.8" ry="3.6"/><ellipse cx="1218.78" cy="1549.42" rx="2.8" ry="3.6"/><ellipse cx="1233.45" cy="1561.95" rx="2.8" ry="3.6"/><ellipse cx="1248.11" cy="1570.5" rx="2.8" ry="3.6"/></g>
<g fill="#ff7f0e"><ellipse cx="1262.78" cy="1680.05" rx="2.8" ry="3.6"/><ellipse cx="1277.45" cy="1542.4" rx="2.8" ry="3.6"/><ellipse cx="1292.11" cy="1613.98" rx="2.8" ry="3.6"/><ellipse cx="1306.78" cy="1578.66" rx="2.8" ry="3.6"/><ellipse cx="1321.44" cy="1553.79" rx="2.8" ry="3.6"/><ellipse cx="1336.11" cy="1636.38" rx="2.8" ry="3.6"/><ellipse cx="1350.78" cy="1621" rx="2.8" ry="3.6"/></g>
<rect x="796.6" y="1439" width="579.8" height="250.8" fill="none" stroke="#111" stroke-width="2.2"/>
<text transform="translate(780.6,1492.6) scale(0.71,1)" font-size="29.5" text-anchor="end">21.7</text>
<text transform="translate(780.6,1585.6) scale(0.71,1)" font-size="29.5" text-anchor="end">21.8</text>
<text transform="translate(780.6,1679) scale(0.71,1)" font-size="29.5" text-anchor="end">21.9</text>
<path d="M822.8 1689.8v10M896.13 1689.8v10M969.46 1689.8v10M1042.79 1689.8v10M1116.12 1689.8v10M1189.45 1689.8v10M1262.78 1689.8v10M1336.11 1689.8v10M796.6 1481.3h-6.6M796.6 1574.3h-6.6M796.6 1667.7h-6.6" stroke="#111" stroke-width="2.1" fill="none"/>
<g fill="#1f77b4"><ellipse cx="822.8" cy="1788.35" rx="2.8" ry="3.6"/><ellipse cx="837.47" cy="1919.16" rx="2.8" ry="3.6"/><ellipse cx="852.13" cy="1879.67" rx="2.8" ry="3.6"/><ellipse cx="866.8" cy="1868.28" rx="2.8" ry="3.6"/><ellipse cx="881.46" cy="1900.94" rx="2.8" ry="3.6"/><ellipse cx="896.13" cy="1816.64" rx="2.8" ry="3.6"/><ellipse cx="910.8" cy="1854.42" rx="2.8" ry="3.6"/><ellipse cx="925.46" cy="1888.03" rx="2.8" ry="3.6"/><ellipse cx="940.13" cy="1871.13" rx="2.8" ry="3.6"/><ellipse cx="954.79" cy="1902.08" rx="2.8" ry="3.6"/><ellipse cx="969.46" cy="1913.47" rx="2.8" ry="3.6"/><ellipse cx="984.13" cy="1912.14" rx="2.8" ry="3.6"/><ellipse cx="998.79" cy="1869.8" rx="2.8" ry="3.6"/><ellipse cx="1013.46" cy="1864.48" rx="2.8" ry="3.6"/><ellipse cx="1028.12" cy="1832.02" rx="2.8" ry="3.6"/><ellipse cx="1042.79" cy="1875.69" rx="2.8" ry="3.6"/><ellipse cx="1057.46" cy="1866.95" rx="2.8" ry="3.6"/><ellipse cx="1072.12" cy="1876.83" rx="2.8" ry="3.6"/><ellipse cx="1086.79" cy="1850.24" rx="2.8" ry="3.6"/><ellipse cx="1101.45" cy="1744.87" rx="2.8" ry="3.6"/><ellipse cx="1116.12" cy="1816.64" rx="2.8" ry="3.6"/><ellipse cx="1130.79" cy="1865.81" rx="2.8" ry="3.6"/><ellipse cx="1145.45" cy="1847.21" rx="2.8" ry="3.6"/><ellipse cx="1160.12" cy="1822.15" rx="2.8" ry="3.6"/><ellipse cx="1174.78" cy="1819.49" rx="2.8" ry="3.6"/><ellipse cx="1189.45" cy="1823.47" rx="2.8" ry="3.6"/><ellipse cx="1204.12" cy="1845.88" rx="2.8" ry="3.6"/><ellipse cx="1218.78" cy="1972.33" rx="2.8" ry="3.6"/><ellipse cx="1233.45" cy="1903.41" rx="2.8" ry="3.6"/><ellipse cx="1248.11" cy="1869.99" rx="2.8" ry="3.6"/></g>
<g fill="#ff7f0e"><ellipse cx="1262.78" cy="1864.29" rx="2.8" ry="3.6"/><ellipse cx="1277.45" cy="1803.73" rx="2.8" ry="3.6"/><ellipse cx="1292.11" cy="1909.1" rx="2.8" ry="3.6"/><ellipse cx="1306.78" cy="1844.74" rx="2.8" ry="3.6"/><ellipse cx="1321.44" cy="1808.1" rx="2.8" ry="3.6"/><ellipse cx="1336.11" cy="1813.6" rx="2.8" ry="3.6"/><ellipse cx="1350.78" cy="1857.46" rx="2.8" ry="3.6"/></g>
<rect x="796.6" y="1732.8" width="579.8" height="251.4" fill="none" stroke="#111" stroke-width="2.2"/>
<text transform="translate(822.8,2026.2) scale(0.71,1)" font-size="29.5" text-anchor="middle">0</text>
<text transform="translate(896.13,2026.2) scale(0.71,1)" font-size="29.5" text-anchor="middle">5</text>
<text transform="translate(969.46,2026.2) scale(0.71,1)" font-size="29.5" text-anchor="middle">10</text>
<text transform="translate(1042.79,2026.2) scale(0.71,1)" font-size="29.5" text-anchor="middle">15</text>
<text transform="translate(1116.12,2026.2) scale(0.71,1)" font-size="29.5" text-anchor="middle">20</text>
<text transform="translate(1189.45,2026.2) scale(0.71,1)" font-size="29.5" text-anchor="middle">25</text>
<text transform="translate(1262.78,2026.2) scale(0.71,1)" font-size="29.5" text-anchor="middle">30</text>
<text transform="translate(1336.11,2026.2) scale(0.71,1)" font-size="29.5" text-anchor="middle">35</text>
<text transform="translate(780.6,1765.5) scale(0.71,1)" font-size="29.5" text-anchor="end">40</text>
<text transform="translate(780.6,1848.1) scale(0.71,1)" font-size="29.5" text-anchor="end">35</text>
<text transform="translate(780.6,1930.7) scale(0.71,1)" font-size="29.5" text-anchor="end">30</text>
<path d="M822.8 1984.2v10M896.13 1984.2v10M969.46 1984.2v10M1042.79 1984.2v10M1116.12 1984.2v10M1189.45 1984.2v10M1262.78 1984.2v10M1336.11 1984.2v10M796.6 1754.2h-6.6M796.6 1836.8h-6.6M796.6 1919.4h-6.6" stroke="#111" stroke-width="2.1" fill="none"/>
<text transform="translate(1086.5,2067) scale(0.76,1)" font-size="28.3" text-anchor="middle">observation number</text>
<rect x="10.4" y="1063.8" width="230.3" height="96" rx="5" ry="6" fill="#fff" fill-opacity="0.8" stroke="#ccc" stroke-width="2"/>
<ellipse cx="41.8" cy="1088.5" rx="2.8" ry="3.6" fill="#1f77b4"/>
<text transform="translate(80.5,1098.5) scale(0.76,1)" font-size="28.3" text-anchor="start">Detection</text>
<ellipse cx="41.8" cy="1130.3" rx="2.8" ry="3.6" fill="#ff7f0e"/>
<text transform="translate(80.5,1140.3) scale(0.76,1)" font-size="28.3" text-anchor="start">Non-detection</text>
<rect x="1198" y="1064.5" width="191" height="95" rx="5" ry="6" fill="#fff" fill-opacity="0.8" stroke="#ccc" stroke-width="2"/>
<ellipse cx="1228.4" cy="1088.3" rx="2.8" ry="3.6" fill="#1f77b4"/>
<text transform="translate(1268.3,1098.3) scale(0.76,1)" font-size="28.3" text-anchor="start">Unmasked</text>
<ellipse cx="1228.4" cy="1130.5" rx="2.8" ry="3.6" fill="#ff7f0e"/>
<text transform="translate(1268.3,1140.5) scale(0.76,1)" font-size="28.3" text-anchor="start">Masked</text>
</g>
</svg></body></html>
